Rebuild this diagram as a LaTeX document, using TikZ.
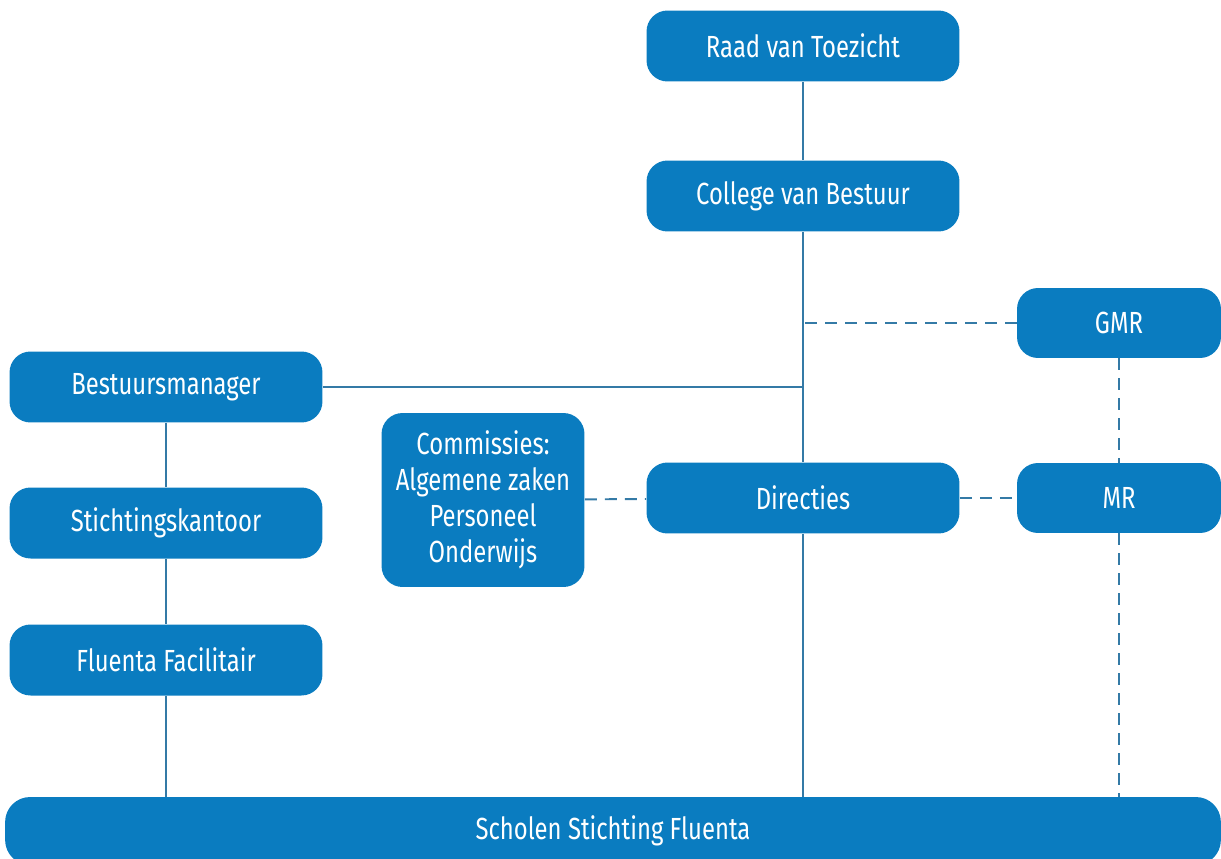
\documentclass[tikz,border=0pt]{standalone}
\usepackage{fontspec}
\setmainfont[FakeStretch=0.78]{Fira Sans}
\usepackage{tikz}
\usetikzlibrary{calc}
\definecolor{fluentablue}{RGB}{10,124,192}
\definecolor{linkblue}{RGB}{52,122,166}
\tikzset{
  orgbox/.style={fill=fluentablue, rounded corners=0.42cm, text=white, align=center,
    font=\fontsize{17.4}{20.5}\selectfont, inner sep=0pt},
  widebox/.style={orgbox, minimum width=6.26cm, minimum height=1.42cm},
  smallbox/.style={orgbox, minimum width=4.08cm, minimum height=1.40cm},
  link/.style={draw=linkblue, line width=1.1pt},
  dashlink/.style={link, dash pattern=on 0.24cm off 0.16cm}
}
\begin{document}
\begin{tikzpicture}[x=0.02cm, y=-0.02cm]
\useasboundingbox (0,0) rectangle (1221,859);
% top
\node[widebox] (rvt) at (803,46) {Raad van Toezicht};
\node[widebox] (cvb) at (803,196) {College van Bestuur};
% right column
\node[smallbox] (gmr) at (1119,323) {GMR};
\node[smallbox] (mr) at (1119,498) {MR};
% middle
\node[widebox] (dir) at (803,498) {Directies};
\node[orgbox, minimum width=4.06cm, minimum height=3.48cm] (com) at (483,500)
  {Commissies:\\Algemene zaken\\Personeel\\Onderwijs};
% left column
\node[widebox] (bm) at (166,387) {Bestuursmanager};
\node[widebox] (sk) at (166,523) {Stichtingskantoor};
\node[widebox] (ff) at (166,660) {Fluenta Facilitair};
% bottom
\node[orgbox, rounded corners=0.5cm, minimum width=24.32cm, minimum height=1.36cm] (ssf) at (613,831)
  {Scholen Stichting Fluenta};
% lines
\draw[link] (rvt) -- (cvb);
\draw[link] (cvb) -- (dir);
\draw[link] (dir) -- (dir |- ssf.north);
\draw[link] (bm.east) -- (bm.east -| cvb.south);
\draw[link] (bm) -- (sk);
\draw[link] (sk) -- (ff);
\draw[link] (ff) -- (ff |- ssf.north);
\draw[dashlink] (gmr.west) -- (gmr.west -| cvb.south);
\draw[dashlink] (com) -- (dir);
\draw[dashlink] (dir) -- (mr);
\draw[dashlink] (gmr) -- (mr);
\draw[dashlink] (mr) -- (mr |- ssf.north);
\end{tikzpicture}
\end{document}
